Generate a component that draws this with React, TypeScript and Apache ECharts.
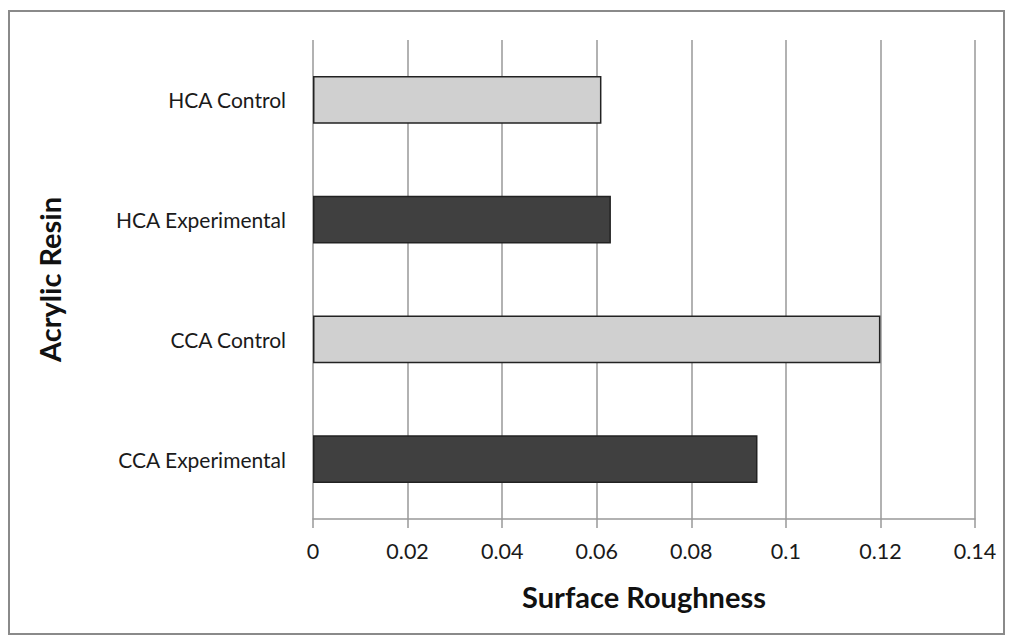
import React, { useEffect, useRef } from "react";
import * as echarts from "echarts";

const categories = ["CCA Experimental", "CCA Control", "HCA Experimental", "HCA Control"];
const values = [0.094, 0.12, 0.063, 0.061];
const barColors = ["#404040", "#d0d0d0", "#404040", "#d0d0d0"];
const xTicks = [0, 0.02, 0.04, 0.06, 0.08, 0.1, 0.12, 0.14];

const FONT = "Lato, 'Open Sans', sans-serif";

export default function App() {
  const ref = useRef<HTMLDivElement>(null);
  useEffect(() => {
    document.body.style.margin = "0";
    const chart = echarts.init(ref.current!, null, { renderer: "svg" });
    chart.setOption({
      animation: false,
      backgroundColor: "#ffffff",
      graphic: [
        {
          type: "rect",
          shape: { x: 9, y: 11, width: 995, height: 623 },
          style: { fill: "none", stroke: "#8a8a8a", lineWidth: 2 },
          silent: true,
        },
      ],
      grid: { left: 313, right: 39, top: 40, bottom: 124, containLabel: false },
      xAxis: {
        type: "value",
        min: xTicks[0],
        max: xTicks[xTicks.length - 1],
        interval: 0.02,
        name: "Surface Roughness",
        nameLocation: "middle",
        nameGap: 63,
        nameTextStyle: { fontFamily: FONT, fontWeight: "bold", fontSize: 29, color: "#111" },
        axisLine: { show: true, lineStyle: { color: "#999", width: 1.5 } },
        axisTick: { show: true, length: 9, lineStyle: { color: "#999", width: 1.5 } },
        axisLabel: {
          fontFamily: FONT,
          fontSize: 21.5,
          color: "#1a1a1a",
          margin: 21,
          formatter: (v: number) => String(parseFloat(v.toFixed(2))),
        },
        splitLine: { show: true, lineStyle: { color: "#999", width: 1.5 } },
      },
      yAxis: {
        type: "category",
        data: categories,
        name: "Acrylic Resin",
        nameLocation: "middle",
        nameRotate: 90,
        nameGap: 249,
        nameTextStyle: { fontFamily: FONT, fontWeight: "bold", fontSize: 29, color: "#111" },
        axisLine: { show: false },
        axisTick: { show: false },
        axisLabel: { fontFamily: FONT, fontSize: 21, color: "#1a1a1a", margin: 27 },
        splitLine: { show: false },
      },
      series: [
        {
          type: "bar",
          barWidth: "40%",
          data: values.map((v, i) => ({
            value: v,
            itemStyle: { color: barColors[i], borderColor: "#222", borderWidth: 1.5 },
          })),
        },
      ],
    });
    return () => chart.dispose();
  }, []);
  return <div ref={ref} style={{ width: 1014, height: 643 }} />;
}
